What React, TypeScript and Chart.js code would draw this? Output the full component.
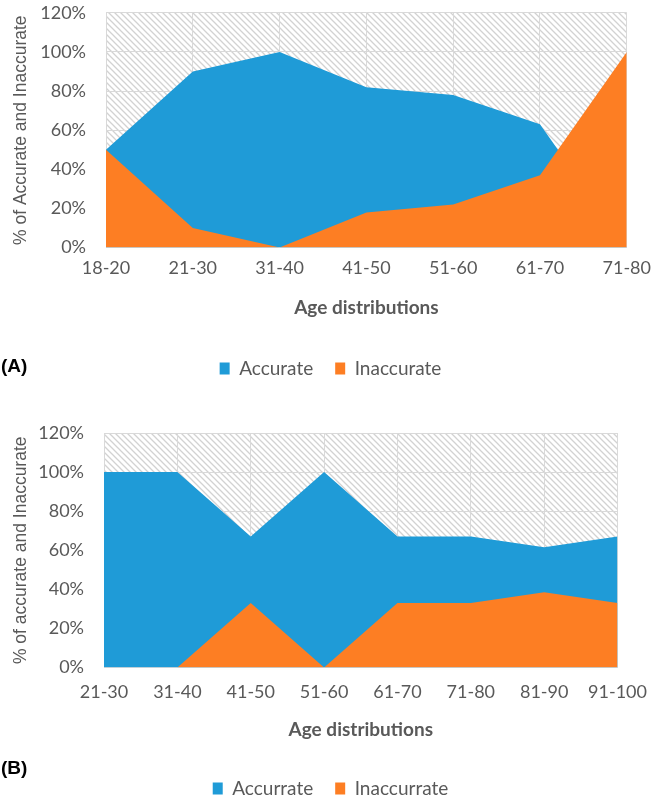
import React, { useEffect, useRef } from 'react';
import { Chart, registerables } from 'chart.js';
Chart.register(...registerables);

// ---- Data (A) ----
const agesA = ['18-20', '21-30', '31-40', '41-50', '51-60', '61-70', '71-80'];
const accurateA = [50, 90, 100, 82, 78, 63, 0];
const inaccurateA = [50, 10, 0, 18, 22, 37, 100];

// ---- Data (B) ----
const agesB = ['21-30', '31-40', '41-50', '51-60', '61-70', '71-80', '81-90', '91-100'];
const accurateB = [100, 100, 67, 100, 67, 67, 61.5, 67];
const inaccurateB = [0, 0, 33, 0, 33, 33, 38.5, 33];

const yMin = 0;
const yMax = 120;
const yStep = 20;

const BLUE = '#1F9BD7';
const ORANGE = '#FD7E23';
const TEXT = '#595959';
const GRID = '#D9D9D9';
const FONT = 'Lato';

const hatchPlugin = {
  id: 'hatch',
  beforeDraw(chart: any) {
    const { ctx, chartArea: a } = chart;
    if (!a) return;
    const s = 6;
    const p = document.createElement('canvas');
    p.width = s;
    p.height = s;
    const pc = p.getContext('2d')!;
    pc.fillStyle = '#ffffff';
    pc.fillRect(0, 0, s, s);
    pc.strokeStyle = '#d2d2d2';
    pc.lineWidth = 1.3;
    pc.beginPath();
    pc.moveTo(-1, -1);
    pc.lineTo(s + 1, s + 1);
    pc.moveTo(-1, s - 1);
    pc.lineTo(1, s + 1);
    pc.moveTo(s - 1, -1);
    pc.lineTo(s + 1, 1);
    pc.stroke();
    const pat = ctx.createPattern(p, 'repeat');
    ctx.save();
    ctx.fillStyle = pat;
    ctx.fillRect(a.left, a.top, a.right - a.left, a.bottom - a.top);
    ctx.restore();
  },
};

type Cfg = {
  labels: string[];
  acc: number[];
  inacc: number[];
  accLabel: string;
  inaccLabel: string;
  yTitle: string;
  yWidth: number;
  rightGap: number;
  padTop: number;
  padBottom: number;
  tickPad: number;
  titlePadTop: number;
  titlePadBottom: number;
};

function AreaChart({ cfg, style }: { cfg: Cfg; style: React.CSSProperties }) {
  const ref = useRef<HTMLCanvasElement>(null);
  useEffect(() => {
    const chart = new Chart(ref.current!, {
      type: 'line',
      data: {
        labels: cfg.labels,
        datasets: [
          {
            label: cfg.accLabel,
            data: cfg.acc,
            backgroundColor: BLUE,
            borderColor: BLUE,
            borderWidth: 0,
            pointRadius: 0,
            tension: 0,
            fill: 'origin',
            order: 2,
          },
          {
            label: cfg.inaccLabel,
            data: cfg.inacc,
            backgroundColor: ORANGE,
            borderColor: ORANGE,
            borderWidth: 0,
            pointRadius: 0,
            tension: 0,
            fill: 'origin',
            order: 1,
          },
        ],
      },
      options: {
        animation: false,
        responsive: false,
        maintainAspectRatio: false,
        layout: { padding: { left: 0, top: cfg.padTop, right: 0, bottom: cfg.padBottom } },
        plugins: {
          tooltip: { enabled: false },
          legend: {
            position: 'bottom',
            labels: {
              boxWidth: 10,
              boxHeight: 12,
              padding: 22,
              color: TEXT,
              font: { family: FONT, size: 19 },
              sort: (a: any, b: any) => a.datasetIndex - b.datasetIndex,
            },
          },
        },
        scales: {
          x: {
            offset: false,
            grid: { color: GRID, drawTicks: false, offset: false },
            border: { color: GRID },
            ticks: { color: TEXT, font: { family: FONT, size: 18 }, padding: cfg.tickPad, maxRotation: 0, autoSkip: false },
            title: {
              display: true,
              text: 'Age distributions',
              color: TEXT,
              font: { family: FONT, size: 19, weight: 'bold' },
              padding: { top: cfg.titlePadTop, bottom: cfg.titlePadBottom },
            },
          },
          y: {
            min: yMin,
            max: yMax,
            grid: { color: GRID, drawTicks: true, tickLength: 18, tickColor: 'rgba(0,0,0,0)' },
            border: { color: GRID },
            ticks: {
              stepSize: yStep,
              color: TEXT,
              font: { family: FONT, size: 18 },
              padding: 2,
              callback: (v: any) => v + '%',
            },
            title: {
              display: true,
              text: cfg.yTitle,
              color: TEXT,
              font: { family: "'Liberation Sans Narrow', 'Liberation Sans', Arial, sans-serif", size: 17.5 },
              padding: { top: 11, bottom: 0 },
            },
            afterFit: (scale: any) => {
              scale.width = cfg.yWidth;
            },
          },
          yRightGap: {
            position: 'right',
            display: true,
            grid: { display: false, drawTicks: false },
            border: { display: false },
            ticks: { display: false },
            afterFit: (scale: any) => {
              scale.width = cfg.rightGap;
            },
          },
        },
      },
      plugins: [hatchPlugin],
    } as any);
    return () => chart.destroy();
  }, []);
  return <canvas ref={ref} width={661} height={style.height as number} style={style} />;
}

const cfgA: Cfg = {
  labels: agesA,
  acc: accurateA,
  inacc: inaccurateA,
  accLabel: 'Accurate',
  inaccLabel: 'Inaccurate',
  yTitle: '% of Accurate and Inaccurate',
  yWidth: 106,
  rightGap: 29,
  padTop: 11,
  padBottom: 2,
  tickPad: 10,
  titlePadTop: 7,
  titlePadBottom: 18,
};

const cfgB: Cfg = {
  labels: agesB,
  acc: accurateB,
  inacc: inaccurateB,
  accLabel: 'Accurrate',
  inaccLabel: 'Inaccurrate',
  yTitle: '% of accurate and Inaccurate',
  yWidth: 104,
  rightGap: 35,
  padTop: 43,
  padBottom: 12,
  tickPad: 14,
  titlePadTop: 1,
  titlePadBottom: 16,
};

const panelLabel: React.CSSProperties = {
  position: 'absolute',
  left: 1,
  fontFamily: 'Liberation Sans, Arial, sans-serif',
  fontWeight: 'bold',
  fontSize: 19,
  color: '#000',
  lineHeight: '20px',
};

export default function App() {
  return (
    <div style={{ position: 'fixed', left: 0, top: 0, width: 661, height: 800, overflow: 'hidden', background: '#fff' }}>
      <AreaChart cfg={cfgA} style={{ position: 'absolute', left: 0, top: 0, width: 661, height: 390 }} />
      <AreaChart cfg={cfgB} style={{ position: 'absolute', left: 0, top: 390, width: 661, height: 430 }} />
      <div style={{ ...panelLabel, top: 356 }}>(A)</div>
      <div style={{ ...panelLabel, top: 758 }}>(B)</div>
    </div>
  );
}
